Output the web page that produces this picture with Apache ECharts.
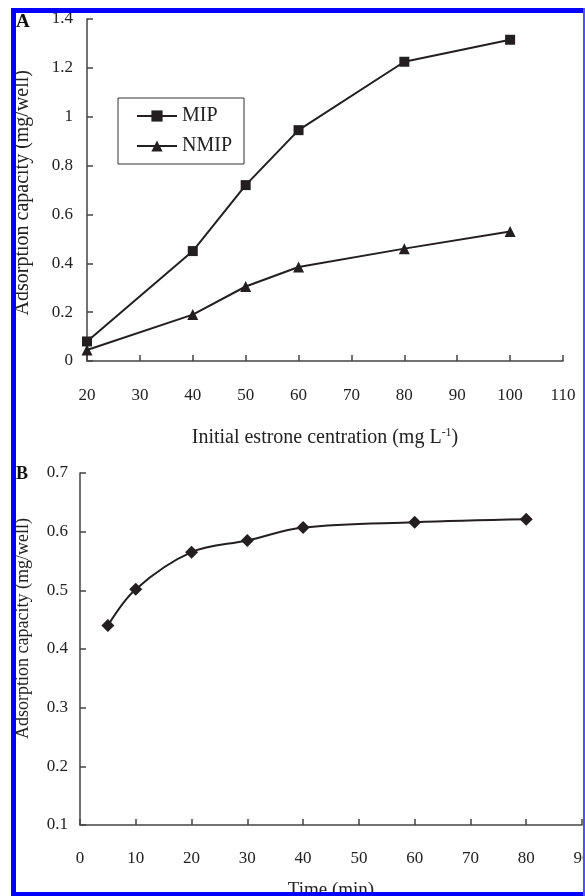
<!DOCTYPE html>
<html>
<head>
<meta charset="utf-8">
<script src="https://cdn.jsdelivr.net/npm/echarts@6/dist/echarts.min.js"></script>
<style>
  html, body { margin: 0; padding: 0; background: #fff; }
  #chart { width: 585px; height: 896px; }
</style>
</head>
<body>
<div id="chart"></div>
<script>
// panel A: adsorption isotherm
var concentration = [20, 40, 50, 60, 80, 100];
var mipValues = [0.08, 0.45, 0.72, 0.945, 1.225, 1.315];
var nmipValues = [0.045, 0.19, 0.305, 0.385, 0.46, 0.53];

// panel B: adsorption kinetics
var timeMin = [5, 10, 20, 30, 40, 60, 80];
var kineticValues = [0.44, 0.502, 0.565, 0.585, 0.607, 0.616, 0.621];

var INK = '#231f20';
var AXIS = '#444';
var FONT = '"Liberation Serif", "DejaVu Serif", serif';

var pairs = (xs, ys) => xs.map((x, i) => [x, ys[i]]);

var axisCommon = {
    axisLine: { show: true, onZero: false, lineStyle: { color: AXIS, width: 1.5 } },
    axisTick: { show: true, inside: true, length: 6, lineStyle: { color: AXIS, width: 1.5 } },
    splitLine: { show: false },
    axisLabel: { color: '#222', fontFamily: FONT, fontSize: 17, showMinLabel: true, showMaxLabel: true }
};

var chart = echarts.init(document.getElementById('chart'), null, { renderer: 'canvas' });

var option = {
    backgroundColor: '#fff',
    animation: false,
    textStyle: { fontFamily: FONT },
    legend: {
        data: ['MIP', 'NMIP'],
        orient: 'vertical',
        left: 118,
        top: 98,
        padding: [8, 12, 8, 18],
        itemWidth: 40,
        itemHeight: 14,
        itemGap: 10,
        borderColor: '#333',
        borderWidth: 1,
        textStyle: { color: '#222', fontFamily: FONT, fontSize: 20 }
    },
    grid: [
        { left: 87, top: 19, width: 476, height: 342, outerBoundsMode: 'none' },
        { left: 80, top: 473, width: 502, height: 352, outerBoundsMode: 'none' }
    ],
    xAxis: [
        Object.assign({}, axisCommon, {
            gridIndex: 0, type: 'value', min: 20, max: 110, interval: 10,
            axisLabel: Object.assign({}, axisCommon.axisLabel, { margin: 26 }),
            name: '{a|Initial estrone centration (mg L}{s|-1}{a|)}',
            nameLocation: 'middle',
            nameGap: 66,
            nameTextStyle: {
                rich: {
                    a: { fontFamily: FONT, fontSize: 20, color: '#222' },
                    s: { fontFamily: FONT, fontSize: 12, color: '#222', verticalAlign: 'top', padding: [0, 0, 10, 0] }
                }
            }
        }),
        Object.assign({}, axisCommon, {
            gridIndex: 1, type: 'value', min: 0, max: 90, interval: 10,
            axisLabel: Object.assign({}, axisCommon.axisLabel, { margin: 25 }),
            name: 'Time (min)',
            nameLocation: 'middle',
            nameGap: 56,
            nameTextStyle: { fontFamily: FONT, fontSize: 19, color: '#222' }
        })
    ],
    yAxis: [
        Object.assign({}, axisCommon, {
            gridIndex: 0, type: 'value', min: 0, max: 1.4, interval: 0.2,
            axisLabel: Object.assign({}, axisCommon.axisLabel, { margin: 14 })
        }),
        Object.assign({}, axisCommon, {
            gridIndex: 1, type: 'value', min: 0.1, max: 0.7, interval: 0.1,
            axisLabel: Object.assign({}, axisCommon.axisLabel, { margin: 12 })
        })
    ],
    series: [
        {
            name: 'MIP', type: 'line', xAxisIndex: 0, yAxisIndex: 0,
            data: pairs(concentration, mipValues),
            symbol: 'rect', symbolSize: 10,
            lineStyle: { color: INK, width: 2 },
            itemStyle: { color: INK }
        },
        {
            name: 'NMIP', type: 'line', xAxisIndex: 0, yAxisIndex: 0,
            data: pairs(concentration, nmipValues),
            symbol: 'triangle', symbolSize: 11,
            lineStyle: { color: INK, width: 2 },
            itemStyle: { color: INK }
        },
        {
            name: 'kinetics', type: 'line', xAxisIndex: 1, yAxisIndex: 1,
            data: pairs(timeMin, kineticValues),
            smooth: 0.35,
            symbol: 'diamond', symbolSize: 13,
            lineStyle: { color: INK, width: 2 },
            itemStyle: { color: INK }
        }
    ],
    graphic: [
        // y axis titles, one per panel
        {
            type: 'text', left: 13, top: 70, rotation: Math.PI / 2,
            style: { text: 'Adsorption capacity (mg/well)', font: '20px ' + FONT, fill: '#222' }
        },
        {
            type: 'text', left: 14, top: 518, rotation: Math.PI / 2,
            style: { text: 'Adsorption capacity (mg/well)', font: '18px ' + FONT, fill: '#222' }
        },
        { type: 'text', left: 16, top: 13, style: { text: 'A', font: 'bold 19px ' + FONT, fill: '#111' } },
        { type: 'text', left: 16, top: 465, style: { text: 'B', font: 'bold 18px ' + FONT, fill: '#111' } },
        // blue frame
        { type: 'rect', z: 100, shape: { x: 11, y: 8, width: 574, height: 5 }, style: { fill: '#0000ff' } },
        { type: 'rect', z: 100, shape: { x: 11, y: 8, width: 5, height: 888 }, style: { fill: '#0000ff' } },
        { type: 'rect', z: 100, shape: { x: 11, y: 892, width: 574, height: 4 }, style: { fill: '#0000ff' } },
        { type: 'rect', z: 100, shape: { x: 583, y: 8, width: 2, height: 888 }, style: { fill: '#5050ff' } }
    ]
};

chart.setOption(option);
</script>
</body>
</html>
